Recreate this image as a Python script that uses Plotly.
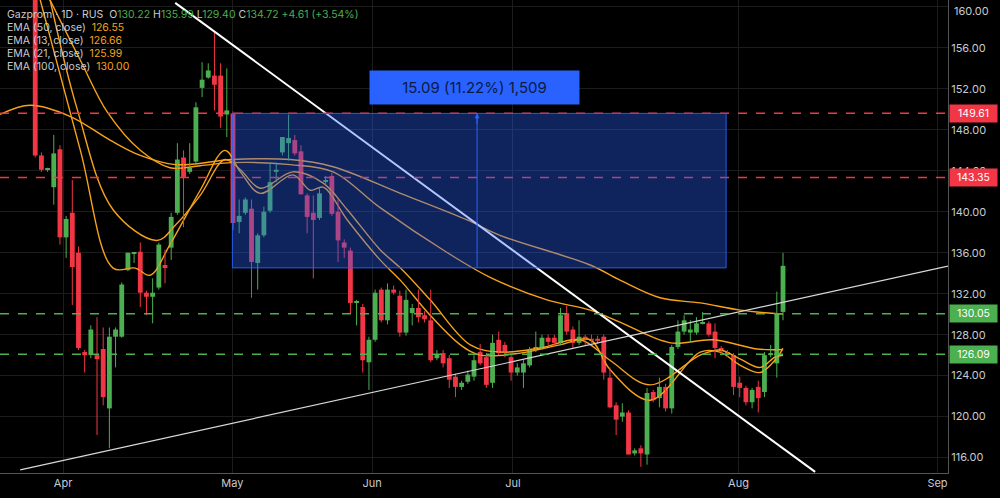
import plotly.graph_objects as go

# daily bars, index 1..122 (trading days)
opens = [161.5, 145.5, 144.1, 142.4, 146.1, 137.5, 139.9, 136.0, 126.3, 126.0,
         126.0, 126.6, 120.8, 127.8, 127.8, 134.3, 135.9, 136.1, 132.1, 131.7,
         132.6, 134.8, 136.5, 139.9, 145.3, 143.9, 144.9, 152.1, 153.1, 153.3,
         153.3, 149.5, 149.6, 139.0, 139.9, 140.3, 135.0, 137.7, 140.1, 143.9,
         145.8, 146.7, 147.0, 145.9, 141.6, 139.9, 139.4, 142.9, 143.5, 140.0,
         137.0, 136.2, 131.1, 130.7, 125.3, 127.5, 132.4, 129.4, 132.4, 131.8,
         128.2, 130.1, 130.6, 129.9, 129.4, 125.7, 126.2, 125.7, 123.9, 122.9,
         123.4, 123.9, 126.3, 125.8, 123.3, 127.5, 127.0, 125.8, 124.3, 124.3,
         125.0, 126.5, 126.7, 127.7, 127.7, 127.2, 130.1, 128.5, 127.2, 127.8,
         127.6, 127.6, 127.8, 123.8, 121.1, 120.0, 120.4, 116.4, 116.9, 116.3,
         122.4, 121.8, 122.9, 120.8, 126.8, 128.3, 128.2, 128.2, 129.1, 129.1,
         128.3, 126.7, 126.3, 126.0, 123.3, 122.8, 121.4, 122.9, 122.4, 126.0,
         125.2, 130.22]
highs = [162.5, 145.8, 144.3, 147.5, 146.5, 139.6, 143.1, 136.6, 126.5, 128.9,
         129.7, 128.7, 128.7, 128.7, 133.1, 136.0, 136.0, 137.0, 132.3, 133.5,
         137.0, 136.3, 139.9, 146.7, 146.0, 146.7, 150.7, 154.6, 154.5, 157.5,
         154.5, 154.0, 149.8, 141.2, 141.4, 141.2, 137.9, 140.5, 144.8, 144.8,
         147.3, 149.5, 147.5, 146.5, 141.8, 141.6, 142.4, 143.5, 143.8, 141.2,
         137.3, 136.5, 131.4, 131.0, 127.8, 132.4, 132.6, 133.0, 132.8, 132.3,
         132.4, 131.0, 132.4, 130.3, 132.4, 126.5, 126.5, 126.0, 124.2, 123.5,
         124.5, 126.0, 127.1, 126.2, 128.0, 128.3, 127.3, 126.2, 125.2, 125.6,
         126.8, 128.3, 128.0, 128.0, 128.0, 130.6, 130.8, 128.8, 129.4, 128.0,
         128.0, 127.9, 128.0, 124.8, 121.4, 121.3, 120.6, 116.9, 117.2, 122.8,
         122.6, 123.8, 123.2, 127.0, 129.4, 129.9, 129.4, 129.7, 130.2, 129.3,
         129.1, 126.9, 126.5, 126.2, 123.9, 123.0, 122.8, 123.5, 126.3, 127.0,
         132.2, 135.99]
lows = [145.3, 143.9, 143.9, 140.7, 136.8, 135.5, 130.9, 126.5, 124.3, 125.7,
        118.2, 121.1, 116.9, 124.8, 127.7, 134.2, 135.0, 130.7, 129.9, 129.1,
        132.4, 133.0, 135.3, 139.7, 138.5, 143.7, 144.6, 151.2, 153.0, 149.9,
        148.2, 147.3, 138.2, 137.9, 139.7, 131.6, 132.4, 137.5, 139.9, 142.9,
        145.5, 145.0, 145.5, 141.7, 137.9, 133.5, 139.2, 142.6, 139.6, 135.1,
        135.5, 130.1, 128.9, 124.3, 122.6, 127.3, 129.2, 129.0, 131.9, 127.8,
        127.9, 128.9, 129.2, 129.2, 125.3, 125.5, 124.8, 122.8, 121.9, 122.6,
        123.2, 123.5, 125.0, 122.8, 122.8, 126.0, 125.8, 123.5, 124.0, 122.8,
        124.8, 126.3, 126.5, 127.0, 126.9, 127.0, 128.0, 126.7, 127.0, 127.0,
        127.2, 127.1, 123.6, 120.8, 118.2, 119.5, 116.3, 116.2, 115.1, 115.3,
        121.4, 120.9, 120.5, 120.3, 126.6, 128.0, 127.2, 128.0, 129.0, 127.8,
        125.7, 126.2, 125.8, 122.1, 121.9, 121.1, 120.8, 120.4, 121.9, 125.8,
        123.8, 129.40]
closes = [145.5, 144.1, 144.1, 145.7, 137.5, 139.3, 134.6, 126.7, 126.0, 128.5,
          125.6, 121.9, 127.8, 128.5, 132.9, 136.0, 136.0, 132.1, 131.7, 132.1,
          136.8, 134.5, 139.5, 145.1, 143.4, 144.3, 150.2, 152.9, 153.8, 152.4,
          149.3, 149.9, 138.9, 139.6, 141.2, 135.1, 137.7, 140.0, 142.9, 144.1,
          147.3, 147.2, 145.7, 141.7, 139.5, 139.2, 141.8, 143.1, 139.8, 137.2,
          136.5, 131.1, 131.2, 125.5, 127.5, 132.1, 129.4, 132.4, 132.1, 128.2,
          131.4, 130.6, 129.7, 129.5, 125.5, 126.1, 125.2, 123.6, 122.9, 123.3,
          124.1, 125.5, 125.2, 123.1, 127.2, 126.2, 126.2, 124.3, 124.8, 125.2,
          126.5, 126.8, 127.7, 127.3, 127.2, 129.9, 128.3, 127.2, 127.8, 127.5,
          127.4, 127.4, 124.3, 120.9, 119.7, 120.4, 116.3, 116.7, 116.4, 122.3,
          121.6, 122.9, 120.8, 126.8, 128.3, 129.4, 128.5, 129.1, 129.2, 128.0,
          126.7, 126.4, 126.0, 122.9, 122.8, 121.4, 122.6, 121.8, 126.0, 126.2,
          130.1, 134.72]
bars = list(range(1, len(closes) + 1))

# EMA curves (bar index, price)
ema13_x = [1.8, 8.3, 13.6, 17.2, 19.6, 22.8, 27.7, 31.7, 34.2, 37.4, 42.7, 45.5, 47.6, 51.5,
           56.8, 60.1, 64.9, 69.8, 73.0, 79.5, 85.9, 90.8, 94.0, 100.5, 108.6, 111.8, 115.1,
           118.3, 120.7, 122]
ema13_y = [160.7, 146.0, 134.5, 134.5, 133.8, 136.8, 142.1, 146.0, 143.9, 141.8, 143.6, 142.1,
           142.4, 139.2, 135.3, 133.3, 129.9, 127.0, 126.0, 126.2, 127.0, 127.5, 124.6, 121.6,
           126.3, 126.3, 125.0, 124.3, 125.5, 126.66]
ema21_x = [3.4, 7.8, 13.6, 20.7, 23.7, 27.7, 31.7, 34.2, 37.4, 42.7, 47.6, 51.5, 56.8, 60.1,
           64.9, 71.4, 76.2, 82.7, 89.2, 94.0, 100.5, 108.6, 111.8, 115.1, 118.3, 120.7, 122]
ema21_y = [160.7, 150.0, 140.2, 137.2, 138.7, 141.6, 145.1, 144.1, 142.3, 143.9, 142.8, 140.2,
           136.3, 134.5, 131.4, 127.0, 126.3, 126.7, 127.5, 125.5, 123.1, 126.0, 126.5, 125.6,
           124.8, 125.8, 125.99]
ema50_x = [1.8, 8.3, 12.7, 18.0, 22.8, 27.7, 32.9, 42.3, 49.2, 56.8, 67.7, 74.6, 83.8, 90.8,
           95.7, 103.8, 110.7, 117.8, 122]
ema50_y = [162.6, 154.8, 149.7, 146.0, 144.3, 144.5, 144.8, 144.6, 143.9, 140.4, 136.0, 133.6,
           131.4, 130.4, 129.2, 127.2, 127.5, 126.6, 126.55]
ema100_x = [-4.7, 0.2, 6.7, 13.1, 18.0, 23.7, 32.9, 42.3, 49.2, 60.1, 70.9, 76.2, 90.8, 95.7,
            102.1, 108.6, 115.1, 122]
ema100_y = [149.5, 150.4, 149.3, 147.0, 145.5, 144.6, 145.1, 145.1, 144.4, 141.8, 139.2, 137.7,
            134.8, 133.3, 131.6, 131.1, 130.4, 130.00]

levels_red = [149.61, 143.35]
levels_green = [130.05, 126.09]

# drawn trend lines (bar index, price)
down_x, down_y = [23.65, 127.2], [160.4, 114.6]
up_x, up_y = [-1.43, 148.7], [114.8, 134.7]

# measure box
box_x0, box_x1, box_top, box_bottom, box_mid = 32.9, 112.8, 149.61, 134.52, 72.5

month_pos = [5.5, 32.9, 55.5, 78.3, 114.8, 147.0]
month_txt = ["Apr", "May", "Jun", "Jul", "Aug", "Sep"]
price_ticks = [116, 120, 124, 128, 132, 136, 140, 144, 148, 152, 156, 160]

GREEN = "#4caf50"
RED = "#f23645"
ORANGE = "#f7a21b"
TXT = "#c8cad0"

fig = go.Figure()

for ex, ey in [(ema100_x, ema100_y), (ema50_x, ema50_y), (ema21_x, ema21_y), (ema13_x, ema13_y)]:
    fig.add_trace(go.Scatter(x=ex, y=ey, mode="lines", line=dict(color=ORANGE, width=1.4, shape="spline"),
                             hoverinfo="skip"))

# candles: wicks as broken lines, bodies as bars
for up, col in [(True, GREEN), (False, RED)]:
    wx, wy = [], []
    bx, bb, bh = [], [], []
    for i, o, h, l, c in zip(bars, opens, highs, lows, closes):
        if (c >= o) != up:
            continue
        wx += [i, i, None]
        wy += [l, h, None]
        bx.append(i)
        bb.append(min(o, c))
        bh.append(max(abs(c - o), 0.12))
    fig.add_trace(go.Scatter(x=wx, y=wy, mode="lines", line=dict(color=col, width=1), hoverinfo="skip"))
    fig.add_trace(go.Bar(x=bx, y=bh, base=bb, width=0.78, marker=dict(color=col, line=dict(width=0))))

fig.add_trace(go.Scatter(x=down_x, y=down_y, mode="lines", line=dict(color="#ffffff", width=2), hoverinfo="skip"))
fig.add_trace(go.Scatter(x=up_x, y=up_y, mode="lines", line=dict(color="#d8d8d8", width=1.2), hoverinfo="skip"))

shapes = []
for lv in levels_red:
    shapes.append(dict(type="line", xref="paper", x0=0, x1=1, yref="y", y0=lv, y1=lv,
                       line=dict(color=RED, width=1.5, dash="dash")))
for lv in levels_green:
    shapes.append(dict(type="line", xref="paper", x0=0, x1=1, yref="y", y0=lv, y1=lv,
                       line=dict(color=GREEN, width=1.5, dash="dash")))
shapes.append(dict(type="rect", xref="x", yref="y", x0=box_x0, x1=box_x1, y0=box_bottom, y1=box_top,
                   fillcolor="rgba(41,98,255,0.36)", line=dict(color="rgba(41,98,255,0.9)", width=1),
                   layer="above"))
shapes.append(dict(type="line", xref="x", yref="y", x0=box_mid, x1=box_mid, y0=box_bottom, y1=box_top,
                   line=dict(color="#2962ff", width=1)))
fig.update_layout(shapes=shapes)

ann = []
ann.append(dict(x=box_mid, y=box_top, xref="x", yref="y", ax=0, ay=12, showarrow=True, arrowhead=2,
                arrowcolor="#2962ff", arrowwidth=1, arrowsize=1, text=""))
ann.append(dict(x=box_mid, y=box_top, xref="x", yref="y", yshift=26, xshift=-3, showarrow=False,
                text="15.09 (11.22%) 1,509", font=dict(size=15, color="#0b1a44"),
                bgcolor="#2962ff", borderpad=7, width=195))
for lv, col in [(149.61, RED), (143.35, RED), (130.05, GREEN), (126.09, GREEN)]:
    ann.append(dict(x=1, xref="paper", y=lv, yref="y", xanchor="left", showarrow=False, xshift=1,
                    text=f"{lv:.2f}", font=dict(size=10.5, color="#ffffff"), bgcolor=col, borderpad=2,
                    width=43))
# top tick label sits at the very edge and is dropped by plotly, so place it by hand
ann.append(dict(x=1, xref="paper", y=price_ticks[-1], yref="y", xanchor="left", yanchor="top", yshift=5,
                xshift=4, showarrow=False, text=f"{price_ticks[-1]:.2f}", font=dict(size=11, color=TXT)))

legend_lines = [
    f"Gazprom · 1D · RUS  O<span style='color:{GREEN}'>130.22</span> H<span style='color:{GREEN}'>135.99</span>"
    f" L<span style='color:{GREEN}'>129.40</span> C<span style='color:{GREEN}'>134.72</span>"
    f" <span style='color:{GREEN}'>+4.61 (+3.54%)</span>",
    f"EMA (50, close)  <span style='color:{ORANGE}'>126.55</span>",
    f"EMA (13, close)  <span style='color:{ORANGE}'>126.66</span>",
    f"EMA (21, close)  <span style='color:{ORANGE}'>125.99</span>",
    f"EMA (100, close)  <span style='color:{ORANGE}'>130.00</span>",
]
for k, t in enumerate(legend_lines):
    ann.append(dict(x=0.005, y=1 - (14 + 13.2 * k) / 473, xref="paper", yref="paper", xanchor="left",
                    yanchor="middle", showarrow=False, text=t, font=dict(size=10.5, color=TXT)))
fig.update_layout(annotations=ann)

fig.update_xaxes(range=[-4.7, 148.7], tickvals=month_pos, ticktext=month_txt, showgrid=True,
                 gridcolor="#1c1c1c", zeroline=False, showline=True, automargin=False,
                 linecolor="#555", tickfont=dict(size=11, color=TXT), ticks="")
fig.update_yaxes(range=[114.49, 160.68], side="right", tickvals=price_ticks,
                 ticktext=[f"{v:.2f}" for v in price_ticks], showgrid=True, gridcolor="#1c1c1c",
                 zeroline=False, showline=True, linecolor="#555", tickfont=dict(size=11, color=TXT),
                 ticks="", automargin=False)
fig.update_layout(width=1000, height=498, margin=dict(l=0, r=52, t=0, b=25),
                  paper_bgcolor="#000", plot_bgcolor="#000", showlegend=False, barmode="overlay",
                  font=dict(family="Inter, Roboto, sans-serif", color=TXT))

# drop the browser's default page margin so the figure sits at the window corner
fig.write_html("out.html", config={"displayModeBar": False},
               post_script="document.body.style.margin='0';document.body.style.background='#000';")
